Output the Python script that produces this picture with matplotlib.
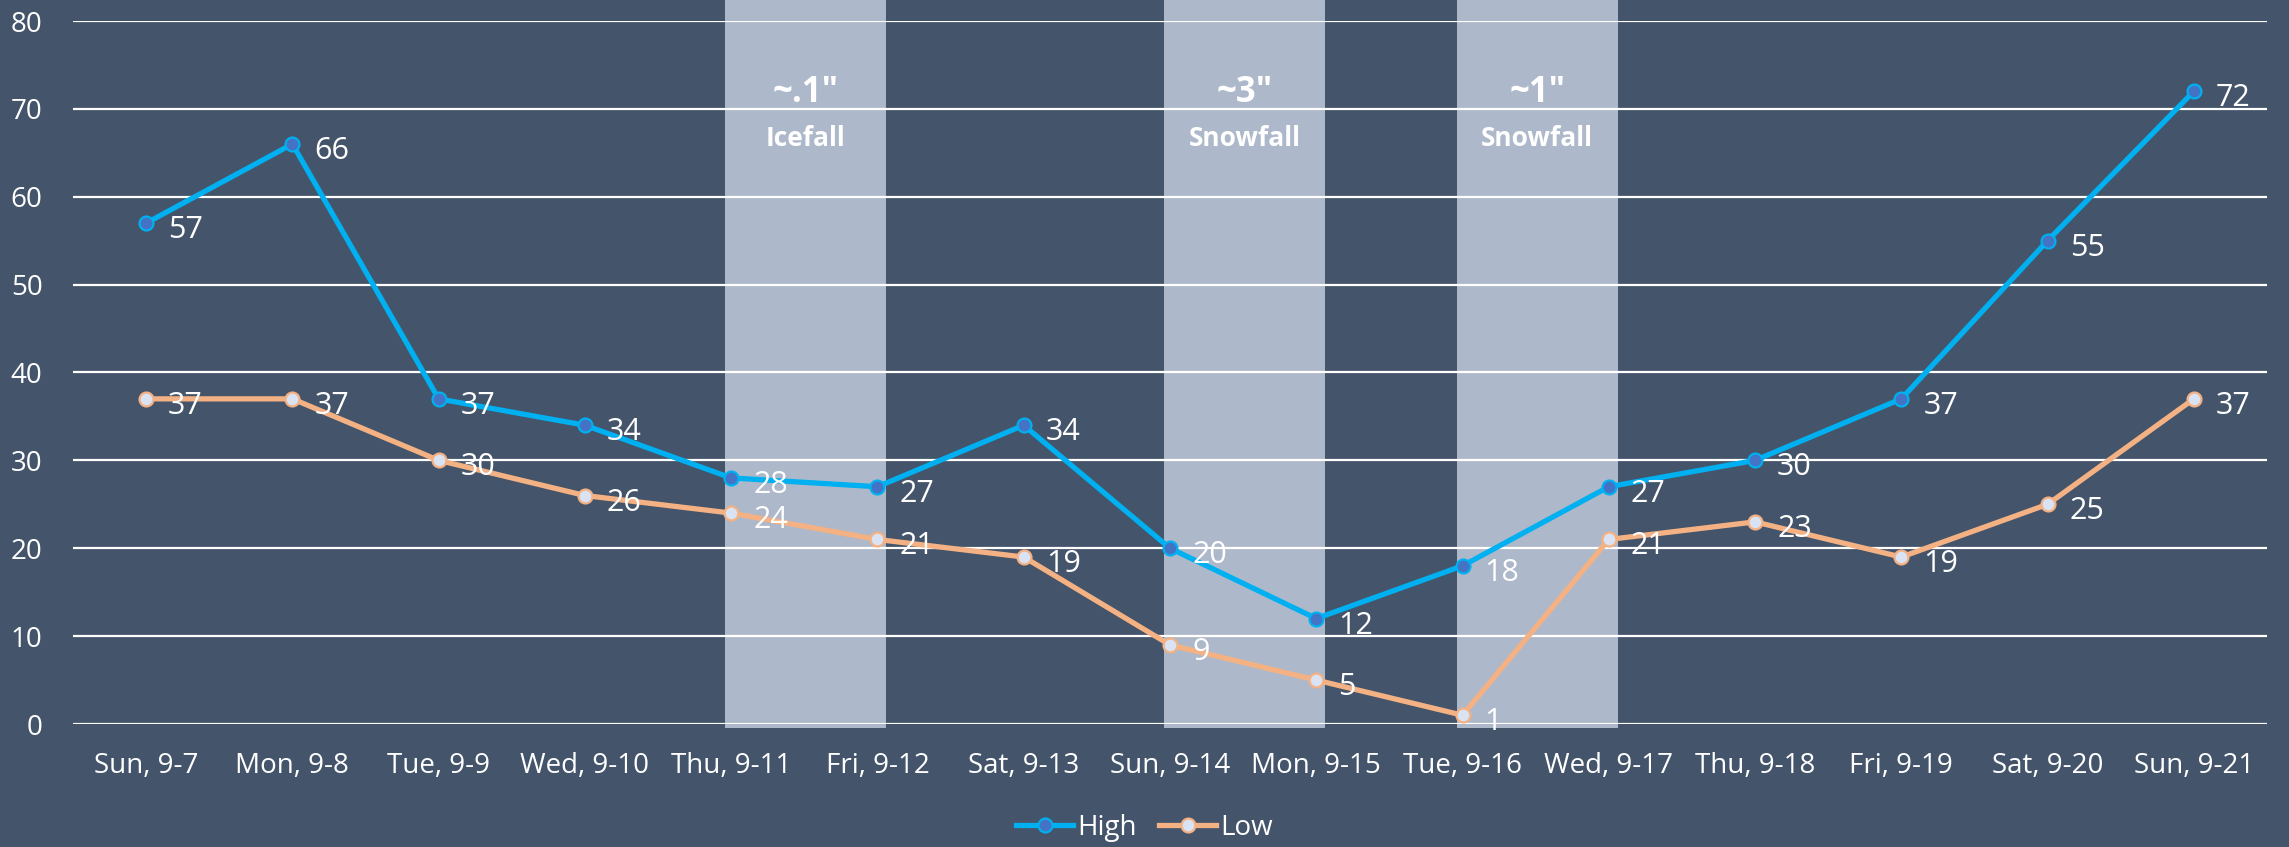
import matplotlib
matplotlib.use("Agg")
import matplotlib.pyplot as plt
from matplotlib.patches import Rectangle

days = ["Sun, 9-7", "Mon, 9-8", "Tue, 9-9", "Wed, 9-10", "Thu, 9-11", "Fri, 9-12",
        "Sat, 9-13", "Sun, 9-14", "Mon, 9-15", "Tue, 9-16", "Wed, 9-17", "Thu, 9-18",
        "Fri, 9-19", "Sat, 9-20", "Sun, 9-21"]
high = [57, 66, 37, 34, 28, 27, 34, 20, 12, 18, 27, 30, 37, 55, 72]
low = [37, 37, 30, 26, 24, 21, 19, 9, 5, 1, 21, 23, 19, 25, 37]

# weather events: first day index, amount, kind
event_start = [4, 7, 9]
event_amount = ["~.1\u2033", "~3\u2033", "~1\u2033"]
event_kind = ["Icefall", "Snowfall", "Snowfall"]

bg = "#44546A"
plt.rcParams['font.family'] = ['Open Sans', 'DejaVu Sans']

fig = plt.figure(figsize=(22.89, 8.47), dpi=100, facecolor=bg)
ax = fig.add_axes([73 / 2289, 1 - 724 / 847, 2194 / 2289, 703 / 847])
ax.set_facecolor(bg)

x = list(range(len(days)))

# shaded event bands
for i, s in enumerate(event_start):
    ax.add_patch(Rectangle((s - 0.04, -0.4), 1.1, 82.8, facecolor="#ADB9CA",
                           edgecolor="none", zorder=1, clip_on=False))
    ax.text(s + 0.51, 71.8, event_amount[i], color="white", fontsize=25,
            fontweight="bold", ha="center", va="center", zorder=2)
    ax.text(s + 0.51, 66.6, event_kind[i], color="white", fontsize=19,
            fontweight="bold", ha="center", va="center", zorder=2)

for v in range(0, 81, 10):
    ax.axhline(v, color="white", lw=1.6, zorder=1.5)

ax.plot(x, high, color="#00B0F0", lw=3.8, marker="o", markersize=10,
        markerfacecolor="#4472C4", markeredgecolor="#00B0F0", markeredgewidth=1.6,
        label="High", zorder=3)
ax.plot(x, low, color="#F4B183", lw=3.8, marker="o", markersize=10,
        markerfacecolor="#DAE3F3", markeredgecolor="#F4B183", markeredgewidth=1.6,
        label="Low", zorder=3)

for xi, h, l in zip(x, high, low):
    ax.annotate(str(h), (xi, h), xytext=(22, -7), textcoords="offset pixels",
                color="white", fontsize=22, ha="left", va="center", zorder=4)
    ax.annotate(str(l), (xi, l), xytext=(22, -7), textcoords="offset pixels",
                color="white", fontsize=22, ha="left", va="center", zorder=4)

ax.set_xlim(-0.5, 14.5)
ax.set_ylim(0, 80)
ax.set_xticks(x)
ax.set_xticklabels(days)
ax.set_yticks(range(0, 81, 10))
ax.tick_params(axis="both", length=0, colors="white", labelsize=20)
ax.tick_params(axis="y", pad=22)
ax.tick_params(axis="x", pad=20)
for sp in ax.spines.values():
    sp.set_visible(False)

leg = fig.legend(loc="center", bbox_to_anchor=(0.5, 1 - 828 / 847), ncol=2,
                 frameon=False, fontsize=20, handlelength=2.05, handletextpad=0.15,
                 columnspacing=0.8)
for t in leg.get_texts():
    t.set_color("white")

fig.savefig("out.png", dpi=100, facecolor=bg)
